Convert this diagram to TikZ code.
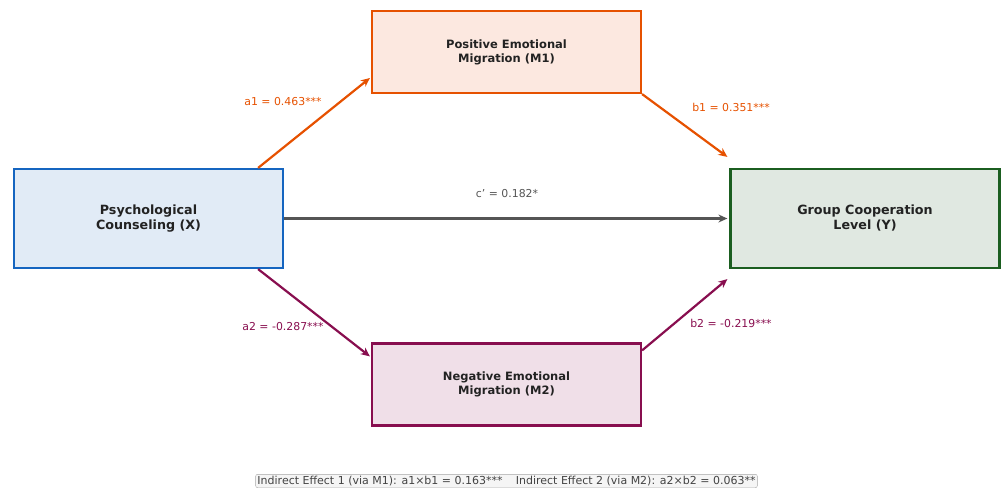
\documentclass[tikz,border=0pt]{standalone}
\usepackage{fontspec}
\setmainfont{DejaVu Sans}
\usetikzlibrary{arrows.meta,calc}
\definecolor{cblue}{HTML}{1565C0}
\definecolor{fblue}{HTML}{E1EBF6}
\definecolor{corange}{HTML}{E65100}
\definecolor{forange}{HTML}{FCE8E0}
\definecolor{cgreen}{HTML}{1B5E20}
\definecolor{fgreen}{HTML}{E0E8E1}
\definecolor{cpurple}{HTML}{880E4F}
\definecolor{fpurple}{HTML}{F0DFE8}
\definecolor{cgray}{HTML}{555555}
\definecolor{ctext}{HTML}{222222}
\begin{document}
\begin{tikzpicture}[x=1pt,y=-1pt,
  varbox/.style={draw, line width=2.2pt, minimum width=269pt, inner sep=0pt, align=center, text=ctext, font=\bfseries},
  bigbox/.style={varbox, minimum height=99pt, font=\bfseries\fontsize{12.7}{15}\selectfont},
  medbox/.style={varbox, minimum height=82pt, font=\bfseries\fontsize{11.5}{14}\selectfont},
  path/.style={line width=2.2pt, -{Stealth[length=9pt,width=8pt]}},
  coef/.style={font=\fontsize{10.9}{13}\selectfont}]
\useasboundingbox (0,0) rectangle (1005,490);
\node[bigbox, draw=cblue, fill=fblue] (X) at (148.5,218.5) {Psychological\\Counseling (X)};
\node[bigbox, draw=cgreen, fill=fgreen] (Y) at (865,218.5) {Group Cooperation\\Level (Y)};
\node[medbox, draw=corange, fill=forange] (M1) at (506.5,52) {Positive Emotional\\Migration (M1)};
\node[medbox, draw=cpurple, fill=fpurple] (M2) at (506.5,384.5) {Negative Emotional\\Migration (M2)};
\draw[path, corange] ($(X.north east)+(-26,0)$) -- ($(M1.west)+(-1,26)$);
\draw[path, corange] (M1.south east) -- ($(Y.north west)+(-2,-11)$);
\draw[path, cgray] (X.east) -- ($(Y.west)+(-2,0)$);
\draw[path, cpurple] ($(X.south east)+(-26,0)$) -- ($(M2.north west)+(-1,14)$);
\draw[path, cpurple] ($(M2.north east)+(0,8)$) -- ($(Y.south west)+(-2,10)$);
\node[coef, text=corange] (la1) at (283,102) {a1 = 0.463***};
\node[coef, text=corange] (lb1) at (731,107) {b1 = 0.351***};
\node[coef, text=cgray] (lc) at (507,194) {c\char"0027{} = 0.182*};
\node[coef, text=cpurple] (la2) at (283,327) {a2 = -0.287***};
\node[coef, text=cpurple] (lb2) at (731,323) {b2 = -0.219***};
\node[draw=gray!70, fill=gray!8, rounded corners=2pt, inner sep=1.8pt, text=ctext!85, font=\fontsize{11}{13}\selectfont] (ind) at (506.5,481) {Indirect Effect 1 (via M1): a1×b1 = 0.163***\hspace{1.2em}Indirect Effect 2 (via M2): a2×b2 = 0.063**};
\end{tikzpicture}
\end{document}
